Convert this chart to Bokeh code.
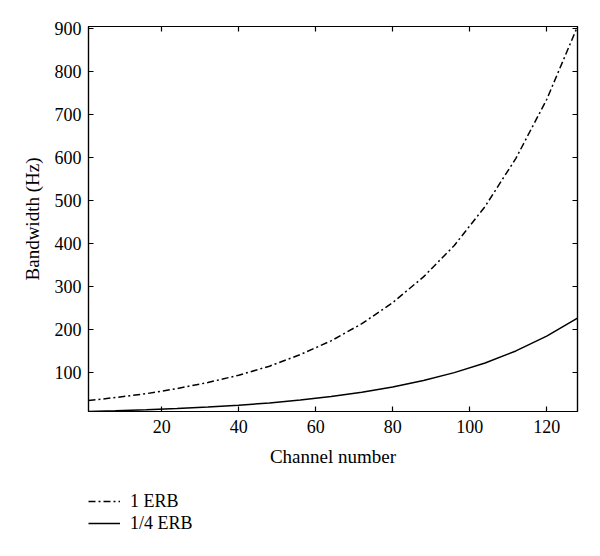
from bokeh.plotting import figure
from bokeh.models import LinearAxis, FixedTicker, Range1d, Legend, LegendItem
from bokeh.layouts import column
from bokeh.embed import file_html
from bokeh.resources import INLINE

channels = [1, 8, 16, 24, 32, 40, 48, 56, 64, 72, 80, 88, 96, 104, 112, 120, 128]
erb_1 = [34, 41, 50, 62, 76, 93, 114, 141, 173, 213, 262, 322, 395, 486, 598, 735, 905]
erb_quarter = [8.5, 10.2, 12.5, 15.5, 19, 23.3, 28.5, 35.2, 43.3, 53.3, 65.5, 80.5, 99, 121.5, 149.5, 184, 226]
x_ticks = [20, 40, 60, 80, 100, 120]
y_ticks = [100, 200, 300, 400, 500, 600, 700, 800, 900]
series_labels = ["1 ERB", "1/4 ERB"]

FONT = "Liberation Serif"
DASHDOT = "7 3 2 3"

p = figure(width=592, height=471, output_backend="svg", toolbar_location=None,
           x_range=Range1d(1, 128), y_range=Range1d(8.5, 905),
           min_border_left=88, min_border_right=15, min_border_top=26, min_border_bottom=60,
           x_axis_label="Channel number", y_axis_label="Bandwidth (Hz)")
p.grid.visible = False
p.outline_line_color = "black"
p.outline_line_width = 1.2
p.background_fill_color = "white"
p.border_fill_color = "white"

p.line(channels, erb_1, line_color="black", line_width=1.5, line_dash=DASHDOT)
p.line(channels, erb_quarter, line_color="black", line_width=1.5)

def style(ax, labels=True):
    ax.axis_line_color = "black"
    ax.axis_line_width = 1.2
    ax.major_tick_in = 5
    ax.major_tick_out = 0
    ax.major_tick_line_width = 1.2
    ax.minor_tick_line_color = None
    ax.major_label_text_font = FONT
    ax.major_label_text_font_size = "18px"
    ax.major_label_text_color = "black" if labels else None
    ax.axis_label_text_font = FONT
    ax.axis_label_text_font_size = "19px"
    ax.axis_label_text_font_style = "normal"
    ax.axis_label_text_color = "black"

p.xaxis.ticker = FixedTicker(ticks=x_ticks)
p.yaxis.ticker = FixedTicker(ticks=y_ticks)
style(p.xaxis[0])
style(p.yaxis[0])
p.xaxis[0].major_label_standoff = 8
p.xaxis[0].axis_label_standoff = 10
p.yaxis[0].major_label_standoff = 7
p.yaxis[0].axis_label_standoff = 9

top = LinearAxis(ticker=FixedTicker(ticks=x_ticks))
style(top, labels=False)
top.major_label_text_font_size = "0px"
right = LinearAxis(ticker=FixedTicker(ticks=y_ticks))
style(right, labels=False)
right.major_label_text_font_size = "0px"
p.add_layout(top, "above")
p.add_layout(right, "right")

# legend panel below the chart (frame aligned with the chart's frame)
q = figure(width=592, height=77, output_backend="svg", toolbar_location=None,
           x_range=Range1d(0, 1), y_range=Range1d(0, 1),
           min_border_left=88, min_border_right=15, min_border_top=0, min_border_bottom=0)
q.axis.visible = False
q.grid.visible = False
q.outline_line_color = None
q.border_fill_color = "white"
# dummy renderers placed outside the visible range, used only for legend glyphs
l1 = q.line([-5, -4], [-5, -4], line_color="black", line_width=1.5, line_dash=DASHDOT)
l2 = q.line([-5, -4], [-5, -4], line_color="black", line_width=1.5)

legend = Legend(items=[LegendItem(label=series_labels[0], renderers=[l1]),
                       LegendItem(label=series_labels[1], renderers=[l2])],
                location=(0, 14), orientation="vertical")
legend.label_text_font = FONT
legend.label_text_font_size = "18px"
legend.label_text_color = "black"
legend.glyph_width = 32
legend.glyph_height = 22
legend.label_height = 22
legend.label_standoff = 10
legend.spacing = 0
legend.padding = 0
legend.margin = 0
legend.border_line_color = None
legend.background_fill_alpha = 0
q.add_layout(legend, "center")

layout = column(p, q, spacing=0)
open("out.html", "w").write(file_html(layout, INLINE))
